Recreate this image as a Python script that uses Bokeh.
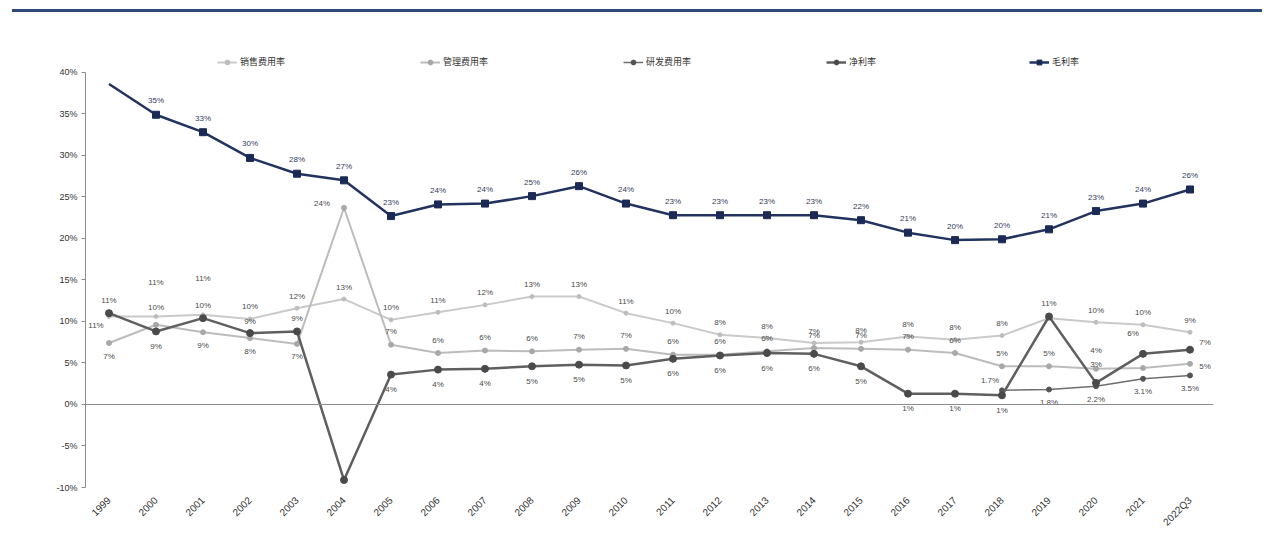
import math
from bokeh.plotting import figure
from bokeh.models import (ColumnDataSource, Span, Legend, LegendItem, CDSView, IndexFilter,
                          PrintfTickFormatter, FixedTicker, Div, FactorRange, Range1d)
from bokeh.layouts import column
from bokeh.embed import file_html
from bokeh.resources import INLINE
from bokeh.core.properties import value

NAN = float("nan")

# ---- data (percent of revenue) ----
years = ["1999", "2000", "2001", "2002", "2003", "2004", "2005", "2006", "2007", "2008",
         "2009", "2010", "2011", "2012", "2013", "2014", "2015", "2016", "2017", "2018",
         "2019", "2020", "2021", "2022Q3"]
gross_margin = [38.6, 34.9, 32.8, 29.7, 27.8, 27.0, 22.7, 24.1, 24.2, 25.1, 26.3, 24.2,
                22.8, 22.8, 22.8, 22.8, 22.2, 20.7, 19.8, 19.9, 21.1, 23.3, 24.2, 25.9]
selling_exp = [10.6, 10.6, 10.8, 10.3, 11.6, 12.7, 10.2, 11.1, 12.0, 13.0, 13.0, 11.0,
               9.8, 8.4, 8.0, 7.4, 7.5, 8.2, 7.8, 8.3, 10.4, 9.9, 9.6, 8.7]
admin_exp = [7.4, 9.6, 8.7, 8.0, 7.3, 23.7, 7.2, 6.2, 6.5, 6.4, 6.6, 6.7,
             6.0, 6.0, 6.4, 6.8, 6.7, 6.6, 6.2, 4.6, 4.6, 4.3, 4.4, 4.9]
rd_exp = [NAN] * 19 + [1.7, 1.8, 2.2, 3.1, 3.5]
net_margin = [11.0, 8.8, 10.4, 8.6, 8.8, -9.1, 3.6, 4.2, 4.3, 4.6, 4.8, 4.7,
              5.5, 5.9, 6.2, 6.1, 4.6, 1.3, 1.3, 1.1, 10.6, 2.6, 6.1, 6.6]

legend_names = ["销售费用率", "管理费用率", "研发费用率", "净利率", "毛利率"]
y_ticks = [-10, -5, 0, 5, 10, 15, 20, 25, 30, 35, 40]

# ---- layout ----
top_rule = Div(text='<div style="margin:3px 0 0 12px;width:1250px;border-top:3px solid #2b4a78;"></div>',
               width=1272, height=12, margin=0)

p = figure(x_range=FactorRange(factors=years, range_padding=0), y_range=Range1d(-10, 42.4),
           width=1272, height=522, min_border_left=85, min_border_right=59,
           min_border_top=40, min_border_bottom=45,
           output_backend="svg", toolbar_location=None)
p.outline_line_color = None
p.xgrid.visible = False
p.ygrid.visible = False
p.background_fill_color = "white"

yax = p.yaxis[0]
yax.ticker = FixedTicker(ticks=y_ticks)
yax.formatter = PrintfTickFormatter(format="%d%%")
yax.bounds = (-10, 40)
yax.axis_line_color = "#8c8c8c"
yax.major_tick_line_color = "#8c8c8c"
yax.major_tick_out = 4
yax.major_tick_in = 0
yax.minor_tick_line_color = None
yax.major_label_text_font = "Liberation Sans"
yax.major_label_text_font_size = "9px"
yax.major_label_text_color = "#333333"
yax.major_label_standoff = 4

xax = p.xaxis[0]
xax.axis_line_color = None
xax.major_tick_line_color = None
xax.minor_tick_line_color = None
xax.major_label_orientation = math.pi / 4
xax.major_label_text_font = "Liberation Sans"
xax.major_label_text_font_size = "10px"
xax.major_label_text_color = "#333333"
xax.major_label_standoff = 5

p.add_layout(Span(location=0, dimension="width", line_color="#8c8c8c", line_width=1))

src = ColumnDataSource(dict(year=years, gross=gross_margin, sell=selling_exp,
                            admin=admin_exp, rd=rd_exp, net=net_margin))

r_sell_l = p.line("year", "sell", source=src, line_color="#cacaca", line_width=2)
r_sell_m = p.scatter("year", "sell", source=src, marker="circle", size=4,
                     fill_color="#bdbdbd", line_color="#bdbdbd")
r_adm_l = p.line("year", "admin", source=src, line_color="#bcbcbc", line_width=2)
r_adm_m = p.scatter("year", "admin", source=src, marker="circle", size=5,
                    fill_color="#a8a8a8", line_color="#a8a8a8")
r_rd_l = p.line("year", "rd", source=src, line_color="#6e6e6e", line_width=1.5)
r_rd_m = p.scatter("year", "rd", source=src, marker="circle", size=5,
                   fill_color="#555555", line_color="#555555")
r_net_l = p.line("year", "net", source=src, line_color="#5f5f5f", line_width=2.5)
r_net_m = p.scatter("year", "net", source=src, marker="circle", size=7,
                    fill_color="#4a4a4a", line_color="#4a4a4a")
r_gm_l = p.line("year", "gross", source=src, line_color="#22335f", line_width=2.5)
# the first gross-margin point carries no marker
gm_view = CDSView(filter=IndexFilter(list(range(1, len(years)))))
r_gm_m = p.scatter("year", "gross", source=src, view=gm_view, marker="square", size=7,
                   fill_color="#1b2a55", line_color="#1b2a55")


def add_labels(vals, fmt, color, default, overrides=None, skip=()):
    """Value labels; offsets are (dx, dy) in pixels with dy pointing up."""
    overrides = overrides or {}
    xs, ys, ts, dxs, dys = [], [], [], [], []
    for yr, v in zip(years, vals):
        if v != v or yr in skip:
            continue
        dx, dy = overrides.get(yr, default)
        xs.append(yr)
        ys.append(v)
        ts.append(fmt % v)
        dxs.append(dx)
        dys.append(-dy)
    s = ColumnDataSource(dict(x=xs, y=ys, t=ts, dx=dxs, dy=dys))
    p.text(x="x", y="y", text="t", x_offset="dx", y_offset="dy", source=s,
           text_font=value("Liberation Sans"), text_font_size="8px",
           text_color=color, text_align="center", text_baseline="middle")


add_labels(gross_margin, "%.0f%%", "#2f3b5c", (0, 14), skip=("1999",))
add_labels(selling_exp, "%.0f%%", "#4a4a4a", (0, 12),
           {"1999": (-13, -9), "2000": (0, 34), "2001": (0, 36)}, skip=("2019",))
add_labels(admin_exp, "%.0f%%", "#4a4a4a", (0, 13),
           {"1999": (0, -13), "2000": (0, 17), "2001": (0, -13), "2002": (0, -13),
            "2003": (0, -13), "2004": (-22, 4), "2020": (0, 18), "2022Q3": (15, -3)},
           skip=("2021",))
add_labels(net_margin, "%.0f%%", "#4a4a4a", (0, -15),
           {"1999": (0, 13), "2001": (0, 13), "2002": (0, 12), "2003": (0, 13),
            "2019": (0, 13), "2020": (0, 18), "2021": (-10, 20), "2022Q3": (15, 7)},
           skip=("2004",))
add_labels(rd_exp, "%.1f%%", "#4a4a4a", (0, -13), {"2018": (-12, 10)})

legend = Legend(items=[
    LegendItem(label=legend_names[0], renderers=[r_sell_l, r_sell_m]),
    LegendItem(label=legend_names[1], renderers=[r_adm_l, r_adm_m]),
    LegendItem(label=legend_names[2], renderers=[r_rd_l, r_rd_m]),
    LegendItem(label=legend_names[3], renderers=[r_net_l, r_net_m]),
    LegendItem(label=legend_names[4], renderers=[r_gm_l, r_gm_m]),
], orientation="horizontal", location=(132, 419))
legend.border_line_color = None
legend.background_fill_alpha = 0
legend.padding = 0
legend.margin = 0
legend.spacing = 5
legend.glyph_width = 20
legend.glyph_height = 12
legend.label_width = 175
legend.label_standoff = 3
legend.label_text_font = "Noto Sans CJK SC"
legend.label_text_font_size = "9px"
legend.label_text_color = "#333333"
p.add_layout(legend)

layout = column(top_rule, p, spacing=0)
open("out.html", "w").write(file_html(layout, INLINE))
